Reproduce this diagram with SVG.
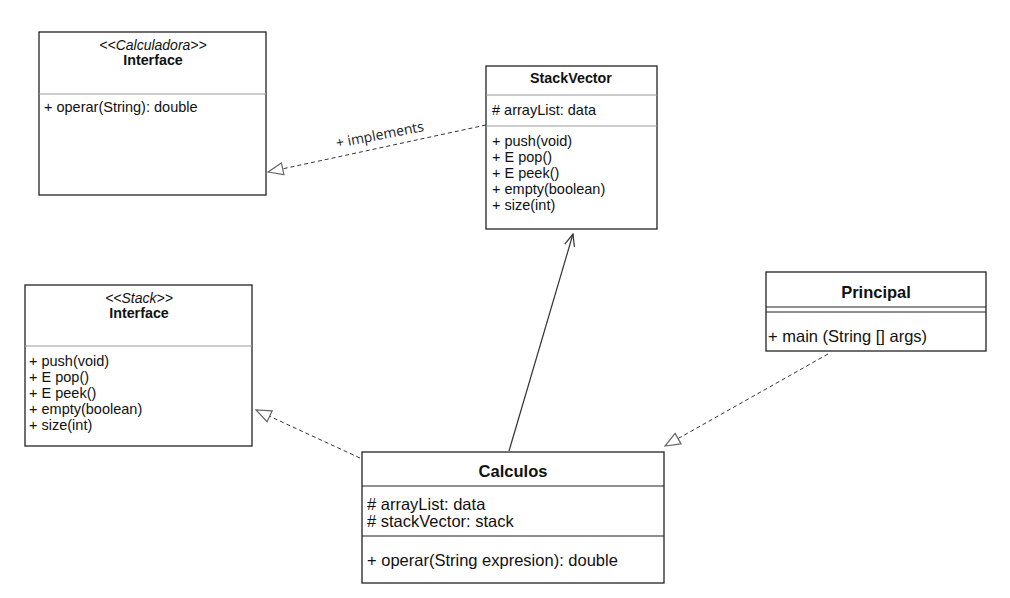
<svg xmlns="http://www.w3.org/2000/svg" width="1010" height="598" viewBox="0 0 1010 598">
<style>
.box{fill:#fff;stroke:#222;stroke-width:1.3}
.div{stroke:#999;stroke-width:1}
.divd{stroke:#222;stroke-width:1.2}
.t{font-family:"Liberation Sans",Arial,sans-serif;font-size:14.5px;fill:#111}
.tl{font-family:"Liberation Sans",Arial,sans-serif;font-size:16.5px;fill:#111}
.st{font-family:"Liberation Sans",Arial,sans-serif;font-size:14px;font-style:italic;fill:#111}
.b{font-family:"Liberation Sans",Arial,sans-serif;font-size:14.3px;font-weight:bold;fill:#111}
.bl{font-family:"Liberation Sans",Arial,sans-serif;font-size:16.5px;font-weight:bold;fill:#111}
.dash{fill:none;stroke:#333;stroke-width:1;stroke-dasharray:4,3}
.solid{fill:none;stroke:#333;stroke-width:1.2}
.lbl{font-family:"Open Sans","DejaVu Sans",sans-serif;font-size:14px;fill:#222}
</style>
<defs>
<marker id="tri" markerUnits="userSpaceOnUse" viewBox="0 0 17 14" markerWidth="17" markerHeight="14" refX="16" refY="7" orient="auto">
<path d="M1,1 L16,7 L1,13 Z" fill="#fff" stroke="#666" stroke-width="1.2"/>
</marker>
<marker id="open" markerUnits="userSpaceOnUse" viewBox="0 0 14 12" markerWidth="14" markerHeight="12" refX="13" refY="6" orient="auto">
<path d="M1,1 L13,6 L1,11" fill="none" stroke="#333" stroke-width="1.2"/>
</marker>
</defs>
<rect width="1010" height="598" fill="#fff"/>
<g id="connectors">
<line class="dash" x1="486" y1="125" x2="268" y2="172" marker-end="url(#tri)"/>
<text class="lbl" transform="translate(337,148) rotate(-11)">+ implements</text>
<line class="dash" x1="360" y1="458" x2="256" y2="410" marker-end="url(#tri)"/>
<line class="dash" x1="828" y1="354" x2="665" y2="446" marker-end="url(#tri)"/>
<line class="solid" x1="509" y1="451" x2="573" y2="234" marker-end="url(#open)"/>
</g>
<g id="calculadora">
<rect class="box" x="39" y="32" width="227" height="163"/>
<line class="div" x1="39" y1="94" x2="266" y2="94"/>
<text class="st" x="153" y="50" text-anchor="middle">&lt;&lt;Calculadora&gt;&gt;</text>
<text class="b" x="153" y="65" text-anchor="middle">Interface</text>
<text class="t" x="44" y="112">+ operar(String): double</text>
</g>
<g id="stackvector">
<rect class="box" x="486" y="66" width="171" height="163"/>
<line class="div" x1="486" y1="95" x2="657" y2="95"/>
<line class="div" x1="486" y1="126" x2="657" y2="126"/>
<text class="b" x="571" y="83" text-anchor="middle">StackVector</text>
<text class="t" x="492" y="115"># arrayList: data</text>
<text class="t" x="492" y="146">+ push(void)</text>
<text class="t" x="492" y="162">+ E pop()</text>
<text class="t" x="492" y="178">+ E peek()</text>
<text class="t" x="492" y="194">+ empty(boolean)</text>
<text class="t" x="492" y="210">+ size(int)</text>
</g>
<g id="stack">
<rect class="box" x="25" y="285" width="227" height="161"/>
<line class="div" x1="25" y1="346" x2="252" y2="346"/>
<text class="st" x="139" y="303" text-anchor="middle">&lt;&lt;Stack&gt;&gt;</text>
<text class="b" x="139" y="318" text-anchor="middle">Interface</text>
<text class="t" x="29" y="366">+ push(void)</text>
<text class="t" x="29" y="382">+ E pop()</text>
<text class="t" x="29" y="398">+ E peek()</text>
<text class="t" x="29" y="414">+ empty(boolean)</text>
<text class="t" x="29" y="430">+ size(int)</text>
</g>
<g id="calculos">
<rect class="box" x="362" y="452" width="302" height="131"/>
<line class="divd" x1="362" y1="486" x2="664" y2="486"/>
<line class="divd" x1="362" y1="536" x2="664" y2="536"/>
<text class="bl" x="513" y="477" text-anchor="middle">Calculos</text>
<text class="tl" x="367" y="510"># arrayList: data</text>
<text class="tl" x="367" y="527"># stackVector: stack</text>
<text class="tl" x="367" y="566">+ operar(String expresion): double</text>
</g>
<g id="principal">
<rect class="box" x="766" y="272" width="220" height="79"/>
<line class="divd" x1="766" y1="307" x2="986" y2="307"/>
<line class="divd" x1="766" y1="312" x2="986" y2="312"/>
<text class="bl" x="876" y="298" text-anchor="middle">Principal</text>
<text class="tl" x="768" y="342">+ main (String [] args)</text>
</g>
</svg>
